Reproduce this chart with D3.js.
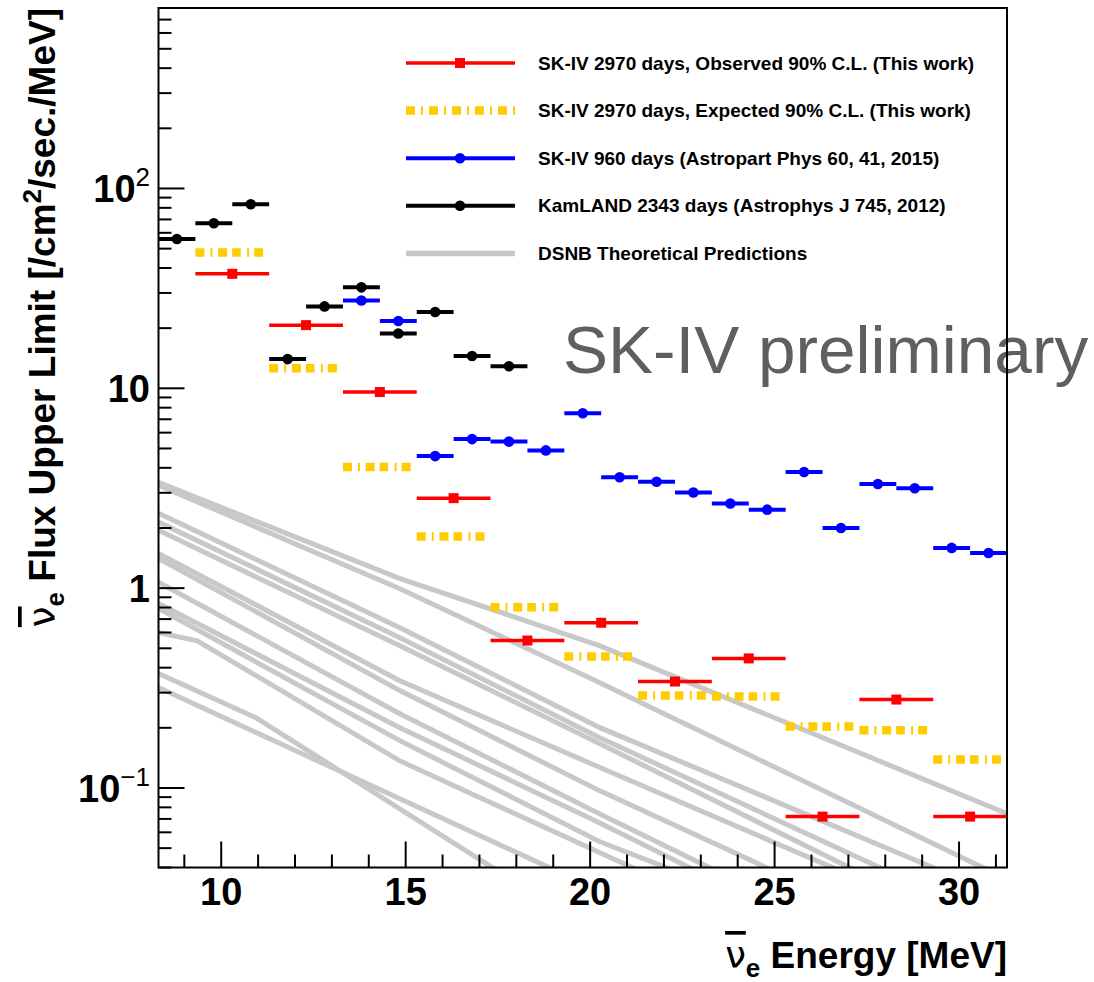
<!DOCTYPE html>
<html>
<head>
<meta charset="utf-8">
<script src="https://cdn.jsdelivr.net/npm/d3@7"></script>
<style>
  body { margin: 0; background: #fff; }
  svg text { font-family: "Liberation Sans", Arial, Helvetica, sans-serif; }
</style>
</head>
<body>
<svg id="chart" width="1094" height="982"></svg>
<script>
// SK-IV 2970 days, 2 MeV bins
const skCenters = [10.3, 12.3, 14.3, 16.3, 18.3, 20.3, 22.3, 24.3, 26.3, 28.3, 30.3]
const observed = [37.4, 20.7, 9.58, 2.82, 0.547, 0.671, 0.341, 0.445, 0.0719, 0.277, 0.0719]
const expected = [47.8, 12.6, 4.04, 1.815, 0.803, 0.455, 0.290, 0.287, 0.203, 0.1945, 0.1387]

// SK-IV 960 days, 1 MeV bins
const sk960Centers = [13.8, 14.8, 15.8, 16.8, 17.8, 18.8, 19.8, 20.8, 21.8, 22.8, 23.8, 24.8, 25.8, 26.8, 27.8, 28.8, 29.8, 30.8]
const sk960 = [27.5, 21.7, 4.58, 5.57, 5.41, 4.89, 7.50, 3.59, 3.41, 3.01, 2.65, 2.47, 3.81, 2.00, 3.32, 3.16, 1.59, 1.50]

// KamLAND 2343 days, 1 MeV bins
const kamCenters = [8.8, 9.8, 10.8, 11.8, 12.8, 13.8, 14.8, 15.8, 16.8, 17.8]
const kamland = [55.9, 67.0, 83.4, 14.0, 25.7, 32.0, 18.8, 24.1, 14.5, 12.9]

// DSNB theoretical predictions, [energy, flux]
const theory = [
    [[8.3, 3.38], [14.83, 1.12], [20.25, 0.516], [31.3, 0.0744]],
    [[8.3, 3.27], [14.83, 0.996], [20.25, 0.337], [30.64, 0.040], [31.3, 0.035]],
    [[8.3, 2.37], [14.83, 0.636], [20.25, 0.201], [29.29, 0.040], [31.3, 0.028]],
    [[8.3, 2.14], [14.83, 0.566], [20.25, 0.179], [27.85, 0.040], [31.3, 0.02]],
    [[8.3, 1.95], [14.83, 0.516], [20.25, 0.167], [27.03, 0.040], [31.3, 0.016]],
    [[8.3, 1.49], [14.83, 0.345], [20.25, 0.127], [26.57, 0.040], [31.3, 0.015]],
    [[8.3, 1.41], [14.83, 0.308], [20.25, 0.097], [24.78, 0.040], [31.3, 0.012]],
    [[8.3, 1.07], [14.83, 0.236], [20.25, 0.0744], [23.23, 0.040], [31.3, 0.008]],
    [[8.3, 0.838], [14.83, 0.201], [20.25, 0.067], [22.69, 0.040], [31.3, 0.007]],
    [[8.3, 0.791], [14.83, 0.173], [20.25, 0.054], [22.06, 0.040], [31.3, 0.006]],
    [[8.3, 0.600], [9.35, 0.545], [14.83, 0.137], [21.14, 0.040], [31.3, 0.005]],
    [[8.3, 0.374], [10.94, 0.225], [17.35, 0.040], [31.3, 0.003]],
    [[8.3, 0.318], [18.89, 0.040], [31.3, 0.003]]
]

const xTicks = [10, 15, 20, 25, 30]
const yTicks = [0.1, 1, 10, 100]
const yLabels = [["10", "\u22121"], ["1", ""], ["10", ""], ["10", "2"]]

const legendItems = [
    { key: "obs", label: "SK-IV 2970 days, Observed 90% C.L. (This work)" },
    { key: "exp", label: "SK-IV 2970 days, Expected 90% C.L. (This work)" },
    { key: "sk960", label: "SK-IV 960 days (Astropart Phys 60, 41, 2015)" },
    { key: "kam", label: "KamLAND 2343 days (Astrophys J 745, 2012)" },
    { key: "theory", label: "DSNB Theoretical Predictions" }
]

const ctx = {
    left: 158.5, right: 1007, top: 8, bottom: 867.5,
    red: "#ff0000", yellow: "#ffcc00", blue: "#0000ff", gray: "#c8c8c8",
    expDash: "9 6 2 5.7 9 5 8.6 6.4 2 5 9 30"
}

let svg = d3.select("#chart")

let x = d3.scaleLinear().domain([8.3, 31.3]).range([ctx.left, ctx.right])
let y = d3.scaleLog().domain([0.04, 800]).range([ctx.bottom, ctx.top])

svg.append("defs").append("clipPath").attr("id", "plotclip")
    .append("rect")
    .attr("x", ctx.left).attr("y", ctx.top)
    .attr("width", ctx.right - ctx.left).attr("height", ctx.bottom - ctx.top)

let plotG = svg.append("g").attr("clip-path", "url(#plotclip)")

/* theory curves */
let line = d3.line().x(d => x(d[0])).y(d => y(d[1]))
plotG.append("g").selectAll("path")
    .data(theory)
    .enter().append("path")
    .attr("d", line)
    .attr("fill", "none")
    .attr("stroke", ctx.gray)
    .attr("stroke-width", 5)

/* expected: dash-dot bars */
plotG.append("g").selectAll("line")
    .data(expected)
    .enter().append("line")
    .attr("x1", (d, i) => x(skCenters[i] - 1))
    .attr("x2", (d, i) => x(skCenters[i] + 1))
    .attr("y1", d => y(d)).attr("y2", d => y(d))
    .attr("stroke", ctx.yellow)
    .attr("stroke-width", 8.5)
    .attr("stroke-dasharray", ctx.expDash)

/* observed: red bars with squares */
let obsG = plotG.append("g")
obsG.selectAll("line")
    .data(observed)
    .enter().append("line")
    .attr("x1", (d, i) => x(skCenters[i] - 1))
    .attr("x2", (d, i) => x(skCenters[i] + 1))
    .attr("y1", d => y(d)).attr("y2", d => y(d))
    .attr("stroke", ctx.red)
    .attr("stroke-width", 3.5)
obsG.selectAll("rect")
    .data(observed)
    .enter().append("rect")
    .attr("x", (d, i) => x(skCenters[i]) - 5)
    .attr("y", d => y(d) - 5)
    .attr("width", 10).attr("height", 10)
    .attr("fill", ctx.red)

/* 1 MeV bin series with circles */
function drawDots(centers, values, color) {
    let g = plotG.append("g")
    g.selectAll("line")
        .data(values)
        .enter().append("line")
        .attr("x1", (d, i) => x(centers[i] - 0.5))
        .attr("x2", (d, i) => x(centers[i] + 0.5))
        .attr("y1", d => y(d)).attr("y2", d => y(d))
        .attr("stroke", color)
        .attr("stroke-width", 4)
    g.selectAll("circle")
        .data(values)
        .enter().append("circle")
        .attr("cx", (d, i) => x(centers[i]))
        .attr("cy", d => y(d))
        .attr("r", 5.3)
        .attr("fill", color)
}
drawDots(sk960Centers, sk960, ctx.blue)
drawDots(kamCenters, kamland, "#000")

/* legend */
let legG = svg.append("g").attr("id", "legend")
legendItems.forEach(function (item, i) {
    let ly = 63 + i * 47.6
    let g = legG.append("g")
    let l = g.append("line")
        .attr("x1", 406).attr("x2", 515)
        .attr("y1", ly).attr("y2", ly)
    if (item.key == "obs") {
        l.attr("stroke", ctx.red).attr("stroke-width", 3.5)
        g.append("rect").attr("x", 455).attr("y", ly - 5)
            .attr("width", 10).attr("height", 10).attr("fill", ctx.red)
    } else if (item.key == "exp") {
        l.attr("stroke", ctx.yellow).attr("stroke-width", 8.5)
            .attr("stroke-dasharray", "9 6 2 6")
    } else if (item.key == "sk960" || item.key == "kam") {
        let c = item.key == "kam" ? "#000" : ctx.blue
        l.attr("stroke", c).attr("stroke-width", 4)
        g.append("circle").attr("cx", 460).attr("cy", ly).attr("r", 5.3).attr("fill", c)
    } else {
        l.attr("stroke", ctx.gray).attr("stroke-width", 5.5)
    }
    g.append("text")
        .attr("x", 538).attr("y", ly + 6.5)
        .style("font-size", "19px")
        .style("font-weight", "bold")
        .text(item.label)
})

/* preliminary label (frame is drawn over it) */
svg.append("text")
    .attr("x", 563).attr("y", 373)
    .style("font-size", "67.5px")
    .style("fill", "#5f5f5f")
    .text("SK-IV preliminary")

/* axes ticks */
let xMinor = d3.range(9, 32).filter(v => xTicks.indexOf(v) < 0)
let axisG = svg.append("g").attr("stroke", "#000").attr("stroke-width", 2)
axisG.selectAll(".xmaj").data(xTicks).enter().append("line")
    .attr("x1", d => x(d)).attr("x2", d => x(d))
    .attr("y1", ctx.bottom).attr("y2", ctx.bottom - 26)
axisG.selectAll(".xmin").data(xMinor).enter().append("line")
    .attr("x1", d => x(d)).attr("x2", d => x(d))
    .attr("y1", ctx.bottom).attr("y2", ctx.bottom - 13)

let yMinor = []
;[0.01, 0.1, 1, 10, 100].forEach(function (dec) {
    for (let k = 2; k <= 9; k++) {
        let v = dec * k
        if (v >= 0.04 && v <= 800) yMinor.push(v)
    }
})
axisG.selectAll(".ymaj").data(yTicks).enter().append("line")
    .attr("x1", ctx.left).attr("x2", ctx.left + 26)
    .attr("y1", d => y(d)).attr("y2", d => y(d))
axisG.selectAll(".ymin").data(yMinor).enter().append("line")
    .attr("x1", ctx.left).attr("x2", ctx.left + 13)
    .attr("y1", d => y(d)).attr("y2", d => y(d))

/* frame */
svg.append("rect")
    .attr("x", ctx.left).attr("y", ctx.top)
    .attr("width", ctx.right - ctx.left).attr("height", ctx.bottom - ctx.top)
    .attr("fill", "none").attr("stroke", "#000").attr("stroke-width", 2)

/* tick labels */
svg.append("g").selectAll("text")
    .data(xTicks)
    .enter().append("text")
    .attr("x", d => x(d)).attr("y", 905)
    .attr("text-anchor", "middle")
    .style("font-size", "38px").style("font-weight", "bold")
    .text(d => d)

let yl = svg.append("g").selectAll("text")
    .data(yTicks)
    .enter().append("text")
    .attr("x", 150).attr("y", d => y(d) + 14)
    .attr("text-anchor", "end")
    .style("font-size", "38px").style("font-weight", "bold")
yl.append("tspan").text((d, i) => yLabels[i][0])
yl.append("tspan")
    .attr("dy", -16)
    .style("font-size", "26px")
    .style("font-weight", "normal")
    .text((d, i) => yLabels[i][1])

/* axis titles */
let xt = svg.append("text")
    .attr("x", 1007).attr("y", 968)
    .attr("text-anchor", "end")
    .style("font-size", "37px").style("font-weight", "bold")
xt.append("tspan").style("font-weight", "normal")
    .style("font-family", "DejaVu Sans")
    .style("text-decoration", "overline")
    .text("\u03bd")
xt.append("tspan").attr("dy", 9).style("font-size", "26px").text("e")
xt.append("tspan").attr("dy", -9).text(" Energy [MeV]")

let yt = svg.append("text")
    .attr("transform", "translate(55,8) rotate(-90)")
    .attr("text-anchor", "end")
    .style("font-size", "37px").style("font-weight", "bold")
yt.append("tspan").style("font-weight", "normal")
    .style("font-family", "DejaVu Sans")
    .style("text-decoration", "overline")
    .text("\u03bd")
yt.append("tspan").attr("dy", 9).style("font-size", "26px").text("e")
yt.append("tspan").attr("dy", -9).text(" Flux Upper Limit [/cm")
yt.append("tspan").attr("dy", -14).style("font-size", "26px").text("2")
yt.append("tspan").attr("dy", 14).text("/sec./MeV]")
</script>
</body>
</html>
